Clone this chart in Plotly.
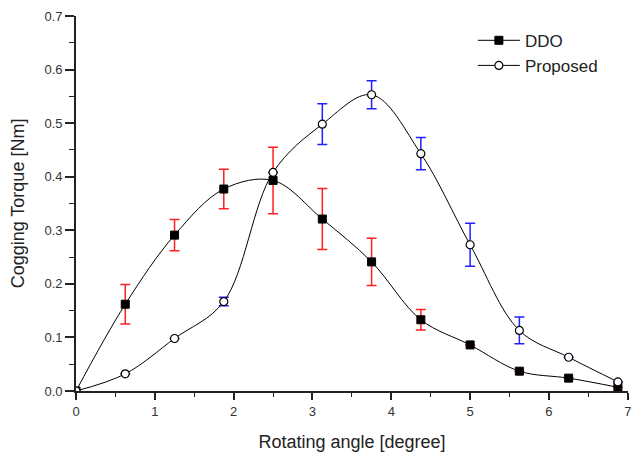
import plotly.graph_objects as go

angle = [0, 0.625, 1.25, 1.875, 2.5, 3.125, 3.75, 4.375, 5.0, 5.625, 6.25, 6.875]
ddo = [0.0, 0.162, 0.291, 0.377, 0.393, 0.321, 0.241, 0.133, 0.086, 0.037, 0.024, 0.007]
ddo_err = [0, 0.037, 0.029, 0.037, 0.062, 0.057, 0.044, 0.019, 0, 0, 0, 0]
proposed = [0.0, 0.032, 0.098, 0.167, 0.408, 0.498, 0.553, 0.443, 0.273, 0.113, 0.063, 0.017]
proposed_err = [0, 0, 0, 0.008, 0, 0.038, 0.026, 0.030, 0.040, 0.025, 0, 0]

x_ticks = [0, 1, 2, 3, 4, 5, 6, 7]
y_ticks = [0, 0.1, 0.2, 0.3, 0.4, 0.5, 0.6, 0.7]
y_ticktext = ["0.0", "0.1", "0.2", "0.3", "0.4", "0.5", "0.6", "0.7"]

fig = go.Figure()
fig.add_trace(go.Scatter(
    x=angle, y=ddo, name="DDO", mode="lines+markers",
    line=dict(color="black", width=1, shape="spline", smoothing=1.0),
    marker=dict(symbol="square", size=8, color="black", line=dict(color="black", width=1)),
    error_y=dict(type="data", array=ddo_err, visible=True, color="#ff2020", thickness=1.5, width=5),
))
fig.add_trace(go.Scatter(
    x=angle, y=proposed, name="Proposed", mode="lines+markers",
    line=dict(color="black", width=1, shape="spline", smoothing=1.0),
    marker=dict(symbol="circle", size=8, color="white", line=dict(color="black", width=1.2)),
    error_y=dict(type="data", array=proposed_err, visible=True, color="#2020ff", thickness=1.5, width=5),
))

fam = "Liberation Sans, Arial, sans-serif"
axis_font = dict(family=fam, size=13, color="#333")
fig.update_layout(
    width=631, height=452,
    margin=dict(l=76, r=3, t=16, b=61, autoexpand=False),
    paper_bgcolor="white", plot_bgcolor="white",
    font=dict(family=fam, color="#222"),
    showlegend=True,
    legend=dict(x=0.719, y=0.982, xanchor="left", yanchor="top",
                font=dict(size=17, color="#222"), bgcolor="rgba(0,0,0,0)",
                tracegroupgap=0, itemwidth=42),
    xaxis=dict(range=[0, 7.003], tickmode="array", tickvals=x_ticks,
               ticks="outside", ticklen=7, tickwidth=1.5, tickcolor="#222",
               minor=dict(tickvals=[0.5, 1.5, 2.5, 3.5, 4.5, 5.5, 6.5], ticks="outside", ticklen=4, tickwidth=1.2, tickcolor="#222"),
               showline=True, linecolor="#222", linewidth=1.8, showgrid=False, zeroline=False,
               tickfont=axis_font, automargin=False, ticklabeloverflow="allow",
               title=dict(text="Rotating angle [degree]", font=dict(size=18, color="#222"), standoff=18)),
    yaxis=dict(range=[0, 0.7], tickmode="array", tickvals=y_ticks, ticktext=y_ticktext,
               ticks="outside", ticklen=9, tickwidth=1.5, tickcolor="#222",
               minor=dict(tickvals=[0.05, 0.15, 0.25, 0.35, 0.45, 0.55, 0.65], ticks="outside", ticklen=5, tickwidth=1.2, tickcolor="#222"),
               showline=True, linecolor="#222", linewidth=1.8, showgrid=False, zeroline=False,
               tickfont=axis_font, automargin=False, ticklabeloverflow="allow",
               title=dict(text="Cogging Torque [Nm]", font=dict(size=18, color="#222"), standoff=15)),
)
fig.write_html("out.html", config={"displayModeBar": False},
               post_script="document.body.style.margin='0';document.body.style.overflow='hidden';")
